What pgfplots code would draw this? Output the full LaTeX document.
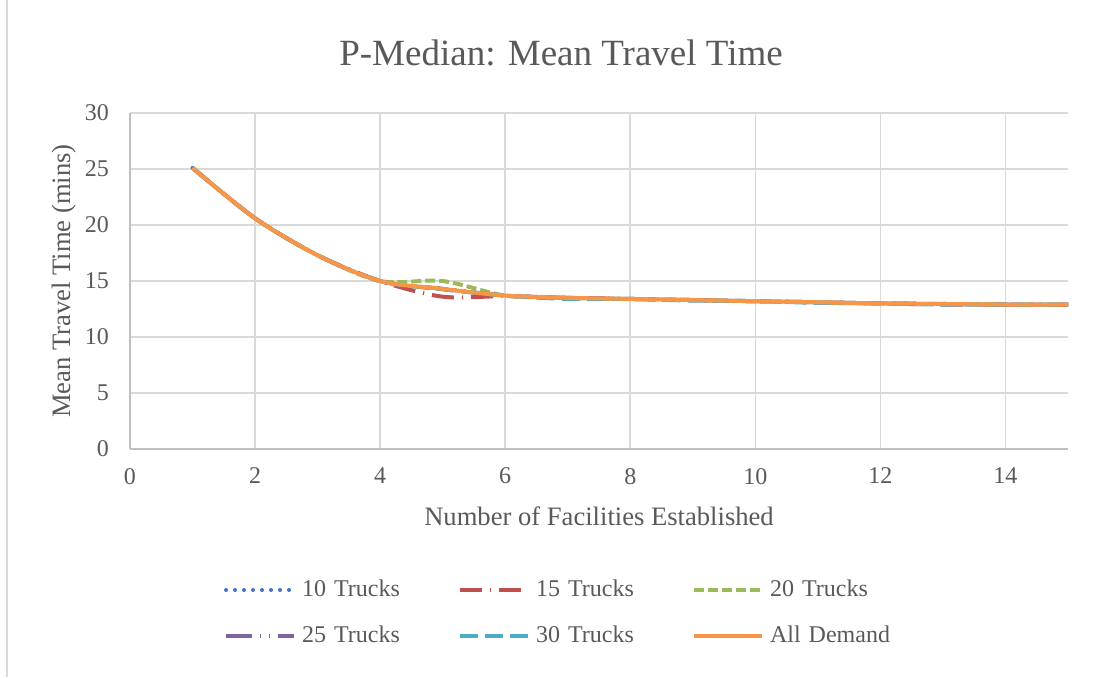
\documentclass[border=0pt]{standalone}
\usepackage{pgfplots}
\pgfplotsset{compat=1.18}
\usepackage{pgfplotstable}
\usepackage{fontspec}
\setmainfont{Liberation Serif}
\usetikzlibrary{calc}
\definecolor{txt}{HTML}{595959}
\definecolor{gridc}{HTML}{D9D9D9}
\definecolor{axc}{HTML}{BFBFBF}
\definecolor{cA}{HTML}{4472C4}
\definecolor{cB}{HTML}{C0504D}
\definecolor{cC}{HTML}{9BBB59}
\definecolor{cD}{HTML}{8064A2}
\definecolor{cE}{HTML}{4BACC6}
\definecolor{cF}{HTML}{F79646}

\pgfplotstableread{
x  t10   t15   t20   t25   t30   all
1  25.1  25.1  25.1  25.1  25.1  25.1
2  20.6  20.6  20.6  20.6  20.6  20.6
3  17.3  17.3  17.3  17.3  17.3  17.3
4  15.0  15.0  15.0  15.0  15.0  15.0
5  14.3  13.6  15.0  14.3  14.25 14.3
6  13.7  13.65 13.7  13.7  13.7  13.7
7  13.5  13.5  13.5  13.5  13.4  13.5
8  13.4  13.4  13.4  13.4  13.4  13.4
9  13.3  13.3  13.3  13.3  13.25 13.3
10 13.2  13.2  13.2  13.2  13.2  13.2
11 13.1  13.1  13.1  13.1  13.05 13.1
12 13.0  13.0  13.0  13.0  13.0  13.0
13 12.95 12.9  12.95 12.95 12.9  12.95
14 12.9  12.9  12.9  12.9  12.9  12.9
15 12.9  12.9  12.9  12.9  12.9  12.9
}\datatable

\begin{document}
\begin{tikzpicture}
\useasboundingbox (0,0) rectangle (554pt,338.5pt);
\draw[draw=gridc, line width=1pt] (3.5pt,0) -- (3.5pt,338.5pt);
\node[text=txt, font=\fontsize{18.5}{22}\selectfont, anchor=base] at (280.5pt,306pt) {P-Median: Mean Travel Time};
\begin{axis}[
  at={(65pt,114pt)}, anchor=south west,
  scale only axis, width=469pt, height=168pt,
  xmin=0, xmax=15, ymin=0, ymax=30,
  xtick={0,2,...,14}, ytick={0,5,...,30},
  axis x line*=bottom, axis y line*=left,
  axis line style={draw=axc, line width=0.8pt},
  grid=major, major grid style={draw=gridc, line width=0.8pt},
  major tick length=0pt,
  /pgf/number format/assume math mode=true,
  tick label style={text=txt, font=\fontsize{12}{14}\selectfont},
  yticklabel style={xshift=-7pt},
  xticklabel style={yshift=-6pt},
  xlabel={Number of Facilities Established},
  ylabel={Mean Travel Time (mins)},
  label style={text=txt, font=\fontsize{13.3}{16}\selectfont},
  xlabel style={at={($(rel axis cs:0.5,0)+(0,-38pt)$)}, anchor=base},
  ylabel style={at={($(rel axis cs:0,0.5)+(-29.5pt,0)$)}, anchor=base},
  legend columns=3,
  legend image code/.code={\draw[#1] (0pt,0pt) -- (34pt,0pt);},
  legend style={
    at={($(rel axis cs:0.4478,0)+(2pt,-82pt)$)}, anchor=center,
    draw=none, fill=none, inner sep=0pt,
    font=\fontsize{12}{14}\selectfont, text=txt,
    /tikz/every even column/.append style={column sep=21pt},
    row sep=11pt,
    nodes={inner xsep=3pt, inner ysep=0pt, text width=54pt, align=left, text height=9pt, text depth=3pt},
  },
  every axis plot/.append style={smooth, tension=0.5, line width=2pt, no marks},
]
\addplot[cA, line cap=round, dash pattern=on 0pt off 4.5pt] table[x=x,y=t10] {\datatable};
\addlegendentry{10 Trucks}
\addplot[cB, dash pattern=on 11pt off 4pt on 0.6pt off 4pt] table[x=x,y=t15] {\datatable};
\addlegendentry{15 Trucks}
\addplot[cC, dash pattern=on 5pt off 2pt] table[x=x,y=t20] {\datatable};
\addlegendentry{20 Trucks}
\addplot[cD, dash pattern=on 13pt off 4pt on 0.6pt off 4pt on 0.6pt off 4pt] table[x=x,y=t25] {\datatable};
\addlegendentry{25 Trucks}
\addplot[cE, dash pattern=on 9pt off 3.6pt] table[x=x,y=t30] {\datatable};
\addlegendentry{30 Trucks}
\addplot[cF] table[x=x,y=all] {\datatable};
\addlegendentry{\mbox{All Demand}}
\end{axis}
\end{tikzpicture}
\end{document}
